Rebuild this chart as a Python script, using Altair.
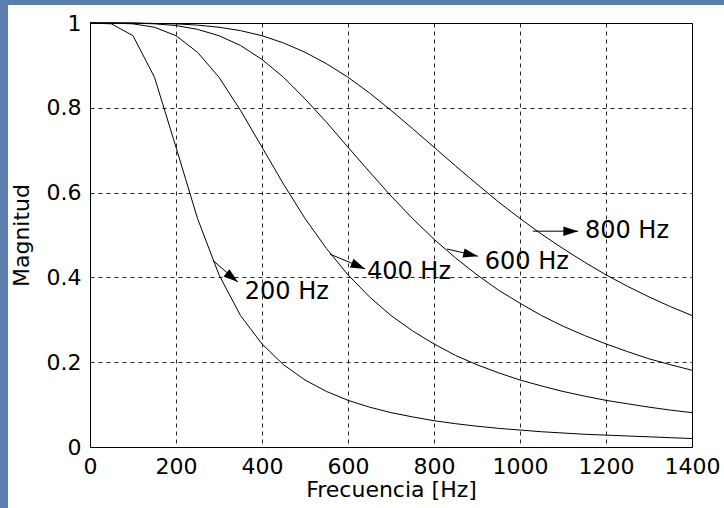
import altair as alt
import pandas as pd

# Sampled frequency axis [Hz]
freq = [0, 50, 100, 150, 200, 250, 300, 350, 400, 450, 500, 550, 600, 650, 700,
        750, 800, 850, 900, 950, 1000, 1050, 1100, 1150, 1200, 1250, 1300, 1350, 1400]

# Magnitude of each low-pass response
mag_200 = [1.000, 0.998, 0.970, 0.872, 0.707, 0.539, 0.406, 0.310, 0.243, 0.194,
           0.158, 0.131, 0.110, 0.094, 0.081, 0.071, 0.062, 0.055, 0.049, 0.044,
           0.040, 0.036, 0.033, 0.030, 0.028, 0.026, 0.024, 0.022, 0.020]
mag_400 = [1.000, 1.000, 0.998, 0.990, 0.970, 0.931, 0.872, 0.794, 0.707, 0.620,
           0.539, 0.468, 0.406, 0.354, 0.310, 0.274, 0.243, 0.216, 0.194, 0.175,
           0.158, 0.144, 0.131, 0.120, 0.110, 0.102, 0.094, 0.087, 0.081]
mag_600 = [1.000, 1.000, 1.000, 0.998, 0.994, 0.985, 0.970, 0.947, 0.914, 0.872,
           0.821, 0.766, 0.707, 0.649, 0.592, 0.539, 0.490, 0.446, 0.406, 0.370,
           0.339, 0.310, 0.285, 0.263, 0.243, 0.225, 0.208, 0.194, 0.181]
mag_800 = [1.000, 1.000, 1.000, 0.999, 0.998, 0.995, 0.990, 0.982, 0.970, 0.953,
           0.931, 0.904, 0.872, 0.835, 0.794, 0.751, 0.707, 0.663, 0.620, 0.578,
           0.539, 0.502, 0.468, 0.436, 0.406, 0.379, 0.354, 0.331, 0.310]

cutoffs = ["200 Hz", "400 Hz", "600 Hz", "800 Hz"]

# Annotation arrows: tail on the curve, head near the label
arrow_f0 = [286, 558, 830, 1030]
arrow_m0 = [0.440, 0.455, 0.467, 0.509]
arrow_f1 = [344, 640, 902, 1135]
arrow_m1 = [0.389, 0.420, 0.450, 0.509]
label_f = [360, 644, 918, 1151]
label_m = [0.366, 0.413, 0.436, 0.509]
head_angle = [38.7, 23.2, 12.7, 0.0]

x_ticks = [0, 200, 400, 600, 800, 1000, 1200, 1400]
y_ticks = [0, 0.2, 0.4, 0.6, 0.8, 1]

rows = []
for name, mags in zip(cutoffs, [mag_200, mag_400, mag_600, mag_800]):
    for f, m in zip(freq, mags):
        rows.append({"serie": name, "f": f, "m": m})
curves = pd.DataFrame(rows)

notes = pd.DataFrame({
    "serie": cutoffs,
    "f0": arrow_f0, "m0": arrow_m0,
    "f1": arrow_f1, "m1": arrow_m1,
    "ft": label_f, "mt": label_m,
    "ang": head_angle,
})

FONT = "DejaVu Sans"
W, H = 602, 424

xs = alt.Scale(domain=[0, 1400], nice=False, zero=False)
ys = alt.Scale(domain=[0, 1], nice=False)

x_axis = alt.Axis(values=x_ticks, format="d", title="Frecuencia [Hz]", grid=True,
                  ticks=False, domain=False, labelPadding=9, labelFontSize=22,
                  labelFont=FONT, labelColor="black", titleFont=FONT, titleFontSize=22,
                  titleFontWeight="normal", titleColor="black",
                  titleBaseline="alphabetic", titleY=49, labelFlush=False,
                  labelOverlap=False)
y_axis = alt.Axis(values=y_ticks, format="~g", title="Magnitud", grid=True, ticks=False,
                  domain=False, labelPadding=9, labelFontSize=22, labelFont=FONT,
                  labelColor="black", titleFont=FONT, titleFontSize=22,
                  titleFontWeight="normal", titleColor="black", titleX=-69,
                  titleBaseline="middle", labelFlush=False, labelOverlap=False)

lines = alt.Chart(curves).mark_line(color="black", strokeWidth=1).encode(
    x=alt.X("f:Q", scale=xs, axis=x_axis),
    y=alt.Y("m:Q", scale=ys, axis=y_axis),
    detail="serie:N",
)

shafts = alt.Chart(notes).mark_rule(color="black", strokeWidth=1).encode(
    x="f0:Q", y="m0:Q", x2="f1:Q", y2="m1:Q",
)

heads = alt.Chart(notes).mark_point(
    shape="M0,0 L-1,-0.32 L-1,0.32 Z", filled=True, color="black", opacity=1, size=860,
).encode(x="f1:Q", y="m1:Q", angle=alt.Angle("ang:Q", scale=None))

labels = alt.Chart(notes).mark_text(
    align="left", baseline="middle", font=FONT, fontSize=24, color="black",
).encode(x="ft:Q", y="mt:Q", text="serie:N")

# Slide backdrop strips along the left and top edges
blank = pd.DataFrame({"k": [0]})
strip_left = alt.Chart(blank).mark_rect(color="#5b7fac").encode(
    x=alt.value(-90), x2=alt.value(-82), y=alt.value(-23), y2=alt.value(H + 61))
strip_top = alt.Chart(blank).mark_rect(color="#5b7fac").encode(
    x=alt.value(-90), x2=alt.value(W + 32), y=alt.value(-23), y2=alt.value(-18))

chart = alt.layer(strip_left, strip_top, lines, shafts, heads, labels).properties(
    width=W, height=H,
    padding={"left": 90, "top": 23, "right": 32, "bottom": 61},
    autosize=alt.AutoSizeParams(type="none"),
    background="white",
).configure_view(
    stroke="black", strokeWidth=1,
).configure_axis(
    gridColor="black", gridDash=[4, 4], gridWidth=1, gridOpacity=0.85,
)

chart.save("out.html", embed_options={"renderer": "svg", "actions": False})
